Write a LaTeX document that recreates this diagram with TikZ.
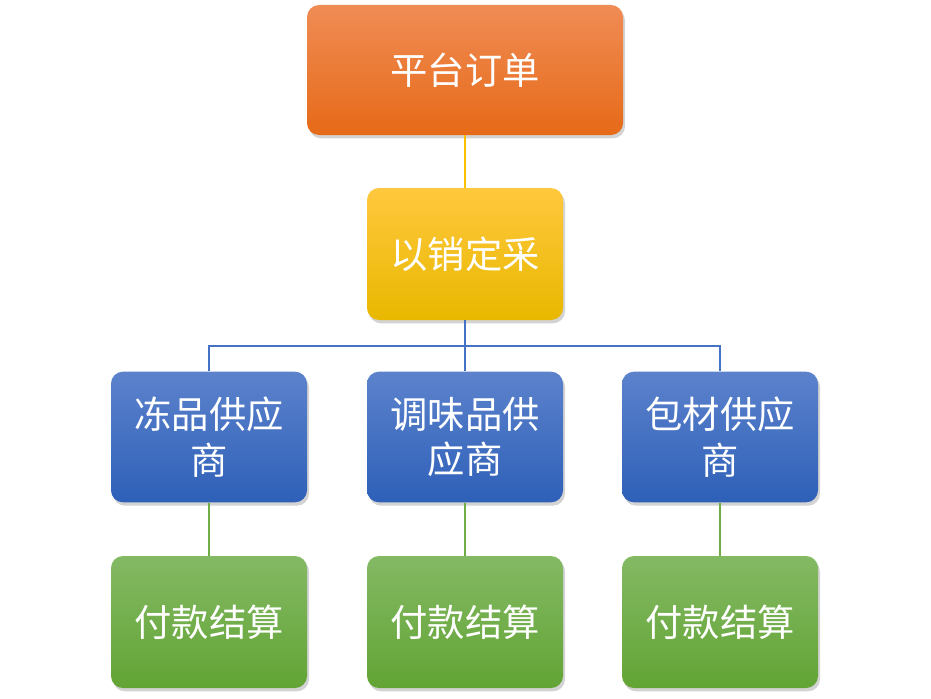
\documentclass[tikz,border=0pt]{standalone}
\usepackage{fontspec}
\newfontfamily\cjk{Noto Sans CJK SC}
\usetikzlibrary{shadows}
\definecolor{orT}{HTML}{F08C55}
\definecolor{orB}{HTML}{E66A18}
\definecolor{yeT}{HTML}{FFC83E}
\definecolor{yeB}{HTML}{E8B800}
\definecolor{blT}{HTML}{5C82CC}
\definecolor{blB}{HTML}{2E60B8}
\definecolor{grT}{HTML}{84B964}
\definecolor{grB}{HTML}{62A434}
\definecolor{yLine}{HTML}{FFC000}
\definecolor{bLine}{HTML}{4472C4}
\definecolor{gLine}{HTML}{70AD47}
\begin{document}
\begin{tikzpicture}[x=0.75pt,y=-0.75pt,
  box/.style={rounded corners=9pt, inner sep=0pt, text=white, align=center,
    font=\cjk\fontsize{28}{34}\selectfont,
    minimum width=147pt, minimum height=98pt,
    drop shadow={opacity=0.35, shadow xshift=1.5pt, shadow yshift=-2.5pt}},
  orbox/.style={box, top color=orT, bottom color=orB},
  yebox/.style={box, top color=yeT, bottom color=yeB},
  blbox/.style={box, top color=blT, bottom color=blB},
  grbox/.style={box, top color=grT, bottom color=grB},
  conn/.style={line width=1.3pt}]
\useasboundingbox (0,0) rectangle (931,699);
\node[orbox, minimum width=237pt, minimum height=97.5pt] (top) at (465,70) {平台订单};
\node[yebox, minimum height=99pt] (mid) at (465,254) {以销定采};
\node[blbox] (b1) at (209,437) {冻品供应\\商};
\node[blbox] (b2) at (465,437) {调味品供\\应商};
\node[blbox] (b3) at (720,437) {包材供应\\商};
\node[grbox, minimum height=99pt] (g1) at (209,622) {付款结算};
\node[grbox, minimum height=99pt] (g2) at (465,622) {付款结算};
\node[grbox, minimum height=99pt] (g3) at (720,622) {付款结算};
\coordinate (j) at (465,346);
\begin{scope}[on background layer/.try]
\end{scope}
\draw[conn, yLine] (top.south) -- (mid.north);
\draw[conn, bLine] (mid.south) -- (j);
\draw[conn, bLine] (b1.north) -- (b1.north |- j) -- (b3.north |- j) -- (b3.north);
\draw[conn, bLine] (j) -- (b2.north);
\draw[conn, gLine] (b1.south) -- (g1.north);
\draw[conn, gLine] (b2.south) -- (g2.north);
\draw[conn, gLine] (b3.south) -- (g3.north);
\end{tikzpicture}
\end{document}
